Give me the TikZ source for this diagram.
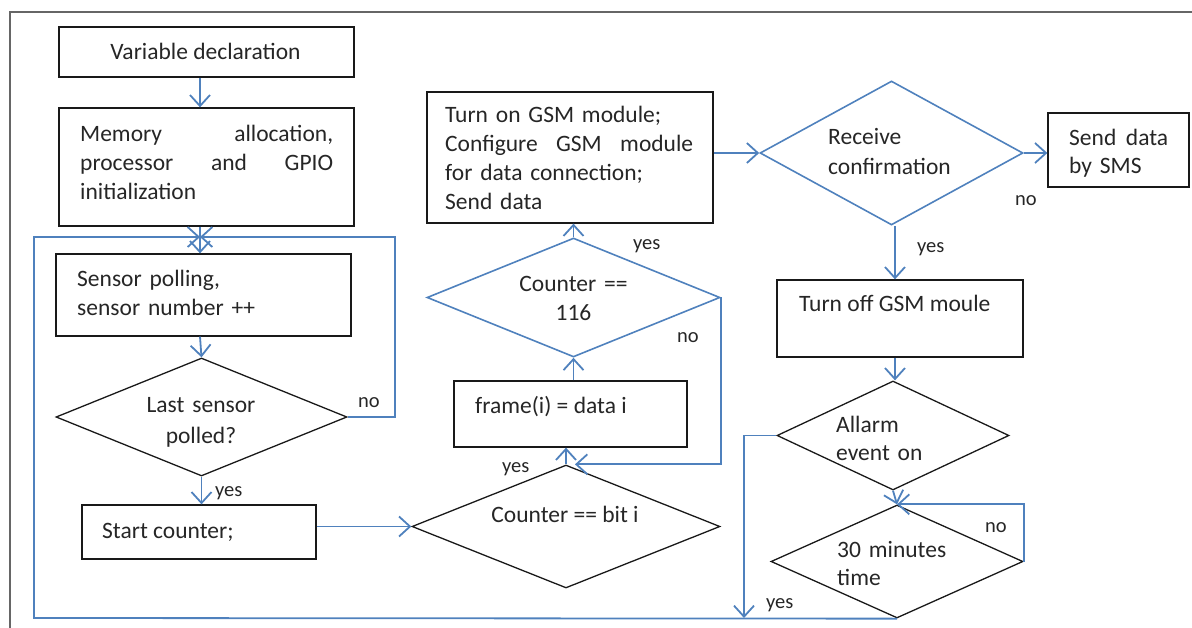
\documentclass[tikz,border=0pt]{standalone}
\usepackage{fontspec}
\setmainfont{Carlito}
\usetikzlibrary{arrows.meta,shapes.geometric}
\definecolor{flowblue}{RGB}{79,129,189}
\newcommand{\mainfs}{\fontsize{23.5bp}{28.7bp}\selectfont}
\newcommand{\lblfs}{\fontsize{20.5bp}{24bp}\selectfont}
\begin{document}
\begin{tikzpicture}[x=1bp,y=-1bp,
  box/.style={draw=black!90, line width=1.3bp, rectangle, inner sep=0pt},
  dia/.style={draw=black!90, line width=1.3bp, diamond, inner sep=0pt},
  bdia/.style={draw=flowblue, line width=1.6bp, diamond, inner sep=0pt},
  txt/.style={inner sep=0pt, anchor=base west, font=\mainfs, text=black!85},
  lbl/.style={inner sep=0pt, anchor=base west, font=\lblfs, text=black!85},
  flow/.style={draw=flowblue, line width=1.8bp, -{Straight Barb[length=11bp,width=20bp,line width=1.8bp]}},
  frameline/.style={draw=black!60, line width=1.3bp}]
\useasboundingbox (0,0) rectangle (1192,628);

% outer frame
\draw[frameline] (10,628) -- (10,12) -- (1192,12);

% boxes
\node[box, minimum width=295bp, minimum height=50bp]  (B1) at (206.5,52) {};
\node[box, minimum width=295bp, minimum height=118bp] (B2) at (206.5,167) {};
\node[box, minimum width=295bp, minimum height=82bp]  (B3) at (203.5,295) {};
\node[box, minimum width=234bp, minimum height=54bp]  (B4) at (199,532) {};
\node[box, minimum width=233bp, minimum height=66bp]  (B5) at (570.5,414) {};
\node[box, minimum width=286bp, minimum height=131bp] (B6) at (570,157.5) {};
\node[box, minimum width=141bp, minimum height=74bp]  (B7) at (1118.5,150) {};
\node[box, minimum width=246bp, minimum height=77bp]  (B8) at (900,318.5) {};

% diamonds
\node[dia,  minimum width=291bp, minimum height=118bp] (D1) at (201.5,417) {};
\node[dia,  minimum width=308bp, minimum height=123bp] (D2) at (566,526.5) {};
\node[bdia, minimum width=293bp, minimum height=119bp] (D3) at (573.5,297.5) {};
\node[bdia, minimum width=263bp, minimum height=144bp] (D4) at (891.5,153) {};
\node[dia,  minimum width=232bp, minimum height=109bp] (D5) at (893,435.5) {};
\node[dia,  minimum width=252bp, minimum height=113bp] (D6) at (897,561.5) {};

% texts
\node[txt, anchor=base] (T1) at (205.5,60) {Variable declaration};
\node[txt, text width=253bp, align=left] (T2) at (80,142)
  {\makebox[\linewidth]{Memory\hfill allocation,}\\\makebox[\linewidth]{processor\hfill and\hfill GPIO}\\initialization};
\node[txt, text width=250bp, align=left] (T3) at (77,287) {Sensor polling,\\sensor number ++};
\node[txt, anchor=base, text width=220bp, align=center, font=\fontsize{23.5bp}{31bp}\selectfont] (T4) at (201,412) {Last sensor\\polled?};
\node[txt] (T5) at (102,538) {Start counter;};
\node[txt, anchor=base] (T6) at (565,522) {Counter == bit i};
\node[txt] (T7) at (475,413) {frame(i) = data i};
\node[txt, anchor=base, text width=200bp, align=center, font=\fontsize{23.5bp}{29bp}\selectfont] (T8) at (573.5,292) {Counter ==\\116};
\node[txt, text width=248bp, align=left, font=\fontsize{23.5bp}{29bp}\selectfont] (T9) at (445,123)
  {Turn on GSM module;\\\makebox[\linewidth]{Configure\hfill GSM\hfill module}\\for data connection;\\Send data};
\node[txt, text width=180bp, align=left, font=\fontsize{23.5bp}{30bp}\selectfont] (T10) at (828,145) {Receive\\confirmation};
\node[txt, text width=99bp, align=left, font=\fontsize{23.5bp}{28bp}\selectfont] (T11) at (1069,146) {\makebox[\linewidth]{Send\hfill data}\\by SMS};
\node[txt] (T12) at (799,312) {Turn off GSM moule};
\node[txt, text width=150bp, align=left, font=\fontsize{23.5bp}{28bp}\selectfont] (T13) at (836,432) {Allarm\\event on};
\node[txt, text width=150bp, align=left, font=\fontsize{23.5bp}{28bp}\selectfont] (T14) at (837,557) {30 minutes\\time};

% labels
\node[lbl] (L1) at (358,407) {no};
\node[lbl] (L2) at (215,496) {yes};
\node[lbl] (L3) at (633,250) {yes};
\node[lbl] (L4) at (677,343) {no};
\node[lbl] (L5) at (502,472) {yes};
\node[lbl] (L6) at (1015,206) {no};
\node[lbl] (L7) at (917,253) {yes};
\node[lbl] (L8) at (985,532) {no};
\node[lbl] (L9) at (766,608) {yes};

% helper coordinates
\coordinate (J)  at (200,237);
\coordinate (RL) at (395,237);
\coordinate (LB) at (34,618);
\coordinate (LT) at (34,237);
\coordinate (CB) at (744,618);
\coordinate (V1) at ([xshift=3.5bp]D4.south);
\coordinate (V2) at ([xshift=2bp]D5.north);
\coordinate (V3) at ([xshift=9bp]D2.north);

% connectors
\draw[flow] (B1.south -| J) -- (B2.north -| J);
\draw[flow] (B2.south -| J) -- (B3.north -| J);
\draw[flow] (B3.south -| J) -- (D1.north);
\draw[flow] (D1.east) -| (RL) -- (J);
\draw[flow] (D6.south) -- (LB) -- (LT) -- (J);
\draw[flow] (D1.south) -- (B4.north -| D1.south);
\draw[flow] (D2.west -| B4.east) -- (D2.west);
\draw[flow] (D2.north) -- (B5.south -| D2.north);
\draw[flow] (B5.north -| D3.south) -- (D3.south);
\draw[flow] (D3.north) -- (B6.south -| D3.north);
\draw[flow] (D3.east) -- (D3.east |- D2.north) -- (V3);
\draw[flow] (D4.west -| B6.east) -- (D4.west);
\draw[flow] (D4.east) -- (D4.east -| B7.west);
\draw[flow] (V1) -- (B8.north -| V1);
\draw[flow] (B8.south -| V2) -- (V2);
\draw[flow] (D5.south) -- (D6.north);
\draw[flow] (D6.east) |- (D6.north);
\draw[flow] (D5.west) -| (CB);
\end{tikzpicture}
\end{document}
